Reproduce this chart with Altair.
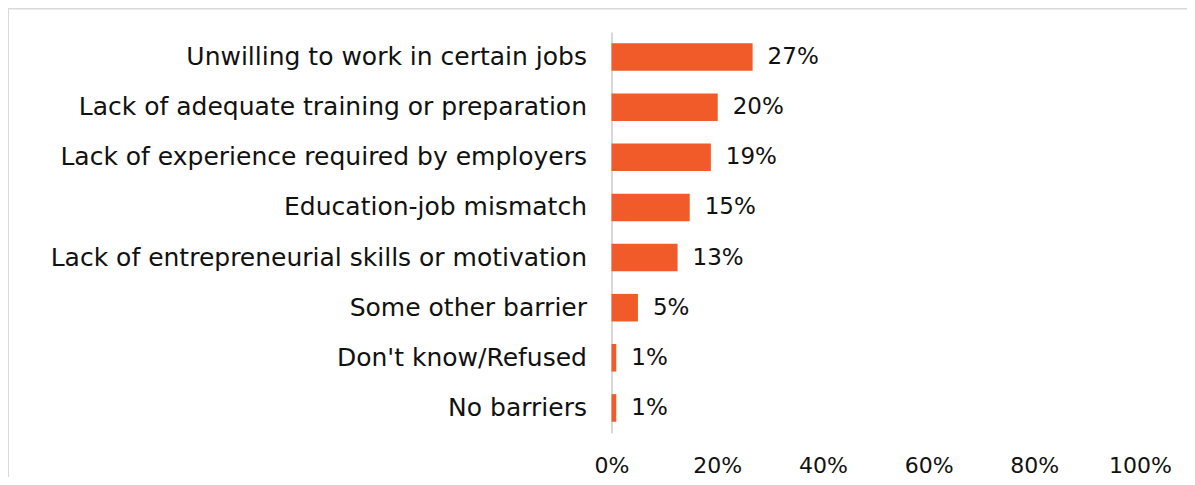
import altair as alt
import pandas as pd

categories = [
    "Unwilling to work in certain jobs",
    "Lack of adequate training or preparation",
    "Lack of experience required by employers",
    "Education-job mismatch",
    "Lack of entrepreneurial skills or motivation",
    "Some other barrier",
    "Don't know/Refused",
    "No barriers",
]
values = [26.7, 20.1, 18.8, 14.8, 12.5, 5.0, 0.9, 0.9]
value_labels = ["27%", "20%", "19%", "15%", "13%", "5%", "1%", "1%"]
tick_values = [0, 20, 40, 60, 80, 100]

W, H = 1179, 469
ZERO_PX, FULL_PX = 603.5, 1132.0
px_per = (FULL_PX - ZERO_PX) / 100.0
XMIN = -ZERO_PX / px_per
XMAX = (W - ZERO_PX) / px_per

df = pd.DataFrame({"category": categories, "value": values, "label": value_labels})
edge = pd.DataFrame({"edge": [XMIN]})

FONT = "DejaVu Sans"
GRAY = "#d9d9d9"
BAR = "#F15A29"
TXT = "#111111"

xscale = alt.Scale(domain=[XMIN, XMAX], nice=False, zero=False)
yscale = alt.Scale(range=[24, 425], paddingInner=0.45, paddingOuter=0.225)

yaxis = alt.Axis(orient="left", offset=-ZERO_PX, ticks=False, domain=True,
                 domainColor=GRAY, domainWidth=2, labelPadding=25, labelLimit=1000,
                 labelFont=FONT, labelFontSize=25, labelColor=TXT, title=None,
                 grid=False)

bars = alt.Chart(df).mark_bar(color=BAR).encode(
    x=alt.X("value:Q", scale=xscale,
            axis=alt.Axis(orient="bottom", values=tick_values,
                          labelExpr="datum.value + '%'", domain=False, ticks=False,
                          grid=False, title=None, offset=-14, labelPadding=2,
                          labelBaseline="middle", labelFont=FONT, labelFontSize=22,
                          labelColor=TXT)),
    y=alt.Y("category:N", sort=None, scale=yscale, axis=yaxis),
)

texts = alt.Chart(df).mark_text(align="left", baseline="middle", dx=15, font=FONT,
                                fontSize=23, color=TXT).encode(
    x=alt.X("value:Q", scale=xscale, axis=None),
    y=alt.Y("category:N", sort=None, axis=yaxis),
    text="label:N",
)

border = alt.Chart(edge).mark_rule(color=GRAY, strokeWidth=2).encode(
    x=alt.X("edge:Q", scale=xscale,
            axis=alt.Axis(orient="top", labels=False, ticks=False, domain=True,
                          domainColor=GRAY, domainWidth=2, grid=False, title=None)),
)

chart = alt.layer(border, bars, texts).resolve_axis(x="independent").properties(
    width=W, height=H, padding=0,
    autosize=alt.AutoSizeParams(type="none"),
).configure_view(stroke=None)

chart.save("out.html", embed_options={"renderer": "svg", "actions": False})
